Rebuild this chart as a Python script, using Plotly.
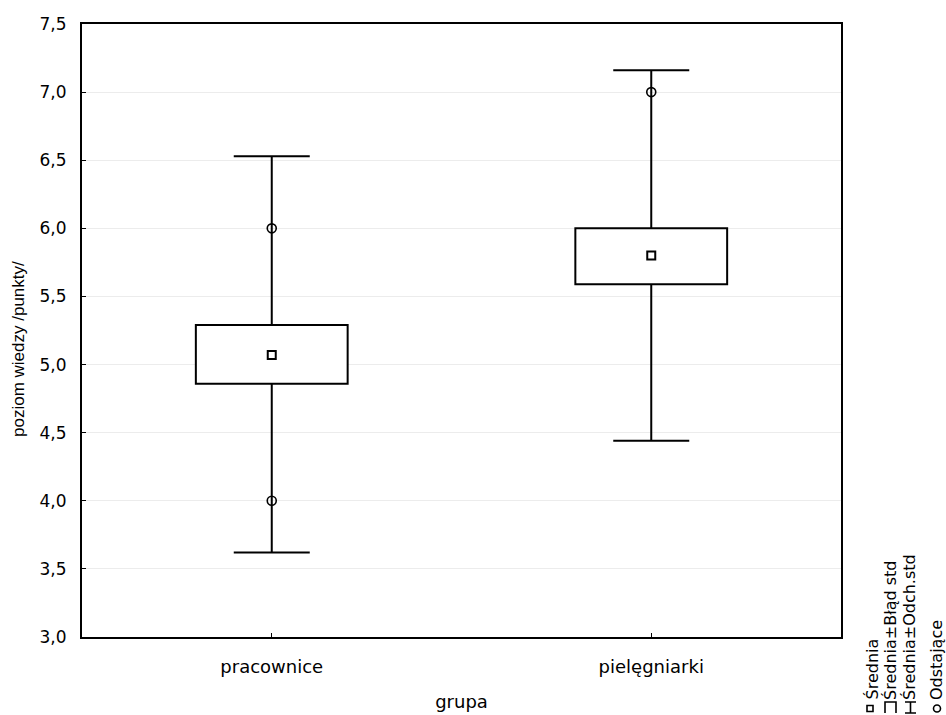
import plotly.graph_objects as go

# ---- data ----
groups = ["pracownice", "pielęgniarki"]
means = [5.07, 5.80]
se_low = [4.86, 5.59]
se_high = [5.29, 6.00]
sd_low = [3.62, 4.44]
sd_high = [6.53, 7.16]
outlier_groups = ["pracownice", "pracownice", "pielęgniarki"]
outlier_values = [6.0, 4.0, 7.0]
legend_labels = ["Średnia", "Średnia±Błąd std", "Średnia±Odch.std", "Odstające"]
y_ticks = [3.0, 3.5, 4.0, 4.5, 5.0, 5.5, 6.0, 6.5, 7.0, 7.5]

W, H = 946, 715
L, R, T, B = 82, 105, 24, 78
PW, PH = W - L - R, H - T - B

def px(x):
    return (x - L) / PW

def py(y):
    return (H - B - y) / PH

fig = go.Figure()

# whiskers (mean ± SD) as error bars of an invisible bar
fig.add_trace(go.Bar(
    x=groups, y=means,
    marker=dict(color="rgba(0,0,0,0)", line=dict(width=0)),
    error_y=dict(type="data", symmetric=False,
                 array=[h - m for h, m in zip(sd_high, means)],
                 arrayminus=[m - l for m, l in zip(means, sd_low)],
                 width=38, thickness=2, color="black"),
    width=0.4, showlegend=False, hoverinfo="skip",
))
# boxes (mean ± SE)
fig.add_trace(go.Bar(
    x=groups, base=se_low, y=[h - l for h, l in zip(se_high, se_low)],
    marker=dict(color="white", line=dict(color="black", width=2)),
    width=0.4, showlegend=False, hoverinfo="skip",
))

fig.add_trace(go.Scatter(
    x=groups, y=means, mode="markers",
    marker=dict(symbol="square-open", size=8, color="black", line=dict(width=2)),
    showlegend=False,
))
fig.add_trace(go.Scatter(
    x=outlier_groups, y=outlier_values, mode="markers",
    marker=dict(symbol="circle-open", size=9, color="black", line=dict(width=1.6)),
    showlegend=False,
))

fig.update_layout(
    width=W, height=H,
    margin=dict(l=L, r=R, t=T, b=B, pad=0),
    paper_bgcolor="white", plot_bgcolor="white",
    separators=", ", barmode="overlay",
    font=dict(family="DejaVu Sans", color="black", size=17),
)
fig.update_xaxes(
    type="category", categoryorder="array", categoryarray=groups,
    range=[-0.5, 1.5], automargin=False,
    showline=True, linecolor="black", linewidth=2, mirror=True,
    ticks="inside", ticklen=4, tickcolor="black", tickwidth=1,
    showgrid=False, tickfont=dict(size=18, family="DejaVu Sans"),
    ticklabelstandoff=12,
    title=dict(text="grupa", font=dict(size=18, family="DejaVu Sans"), standoff=20),
)
fig.update_yaxes(
    range=[3.0, 7.5], tickvals=y_ticks, tickformat=".1f", automargin=False,
    showline=True, linecolor="black", linewidth=2, mirror=True,
    ticks="inside", ticklen=4, tickcolor="black", tickwidth=1,
    showgrid=True, gridcolor="#ececec", gridwidth=1, zeroline=False,
    tickfont=dict(size=17, family="DejaVu Sans"),
    ticklabelstandoff=10,
)

# y axis title (placed as in the reference, slightly below centre)
fig.add_annotation(
    text="poziom wiedzy /punkty/", textangle=-90, xref="paper", yref="paper",
    x=px(19), y=py(349), xanchor="center", yanchor="middle", showarrow=False,
    font=dict(size=17, family="Liberation Sans", color="black"),
)

# legend (rotated, bottom-right corner as in the reference)
text_x = [872, 891, 910, 937]
for lab, tx in zip(legend_labels, text_x):
    fig.add_annotation(
        text=lab, textangle=-90, xref="paper", yref="paper",
        x=px(tx), y=py(702), xanchor="center", yanchor="bottom",
        showarrow=False, font=dict(size=16, family="DejaVu Sans", color="black"),
    )

line = dict(color="black", width=1.6)
fig.add_shape(type="rect", xref="paper", yref="paper",
              x0=px(867), x1=px(873), y0=py(711.5), y1=py(705.5), line=line)
fig.add_shape(type="path", xref="paper", yref="paper",
              path=f"M {px(885)},{py(713)} L {px(885)},{py(702)} L {px(896)},{py(702)} L {px(896)},{py(713)}",
              line=line)
fig.add_shape(type="path", xref="paper", yref="paper",
              path=(f"M {px(905)},{py(702)} L {px(916)},{py(702)} "
                    f"M {px(910.5)},{py(702)} L {px(910.5)},{py(713)} "
                    f"M {px(905)},{py(713)} L {px(916)},{py(713)}"),
              line=line)
fig.add_shape(type="circle", xref="paper", yref="paper",
              x0=px(933.5), x1=px(940.5), y0=py(712), y1=py(705), line=line)

fig.write_html("out.html")
